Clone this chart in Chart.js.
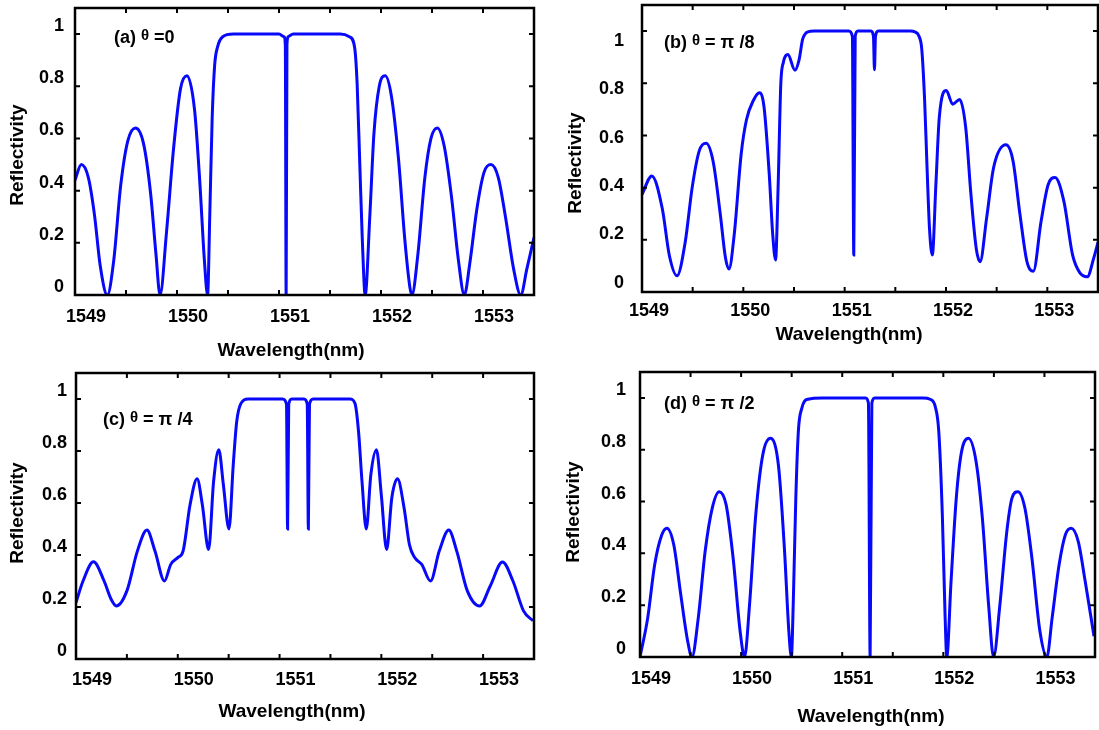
<!DOCTYPE html>
<html>
<head>
<meta charset="utf-8">
<title>Reflectivity spectra</title>
<script src="https://cdn.jsdelivr.net/npm/chart.js@4.4.0/dist/chart.umd.min.js"></script>
<style>
  body { margin: 0; background: #fff; }
  #wrap { position: relative; width: 1099px; height: 730px; }
  #wrap canvas { position: absolute; }
</style>
</head>
<body>
<div id="wrap">
  <canvas id="chartA" width="549" height="365" style="left:0;top:0"></canvas>
  <canvas id="chartB" width="550" height="365" style="left:549px;top:0"></canvas>
  <canvas id="chartC" width="549" height="365" style="left:0;top:365px"></canvas>
  <canvas id="chartD" width="550" height="365" style="left:549px;top:365px"></canvas>
</div>
<script>
// Axis ranges and ticks (shared by all four panels)
const X_MIN = 1549, X_MAX = 1553.5, X_STEP = 0.5;
const Y_MIN = 0, Y_MAX = 1.1, Y_STEP = 0.2;
const X_TITLE = 'Wavelength(nm)';
const Y_TITLE = 'Reflectivity';

// (a) theta = 0
const wavelengthA = [1549.000, 1549.062, 1549.131, 1549.190, 1549.248, 1549.317,
  1549.379, 1549.448, 1549.517, 1549.593, 1549.672, 1549.741, 1549.793, 1549.834,
  1549.897, 1549.966, 1550.034, 1550.097, 1550.172, 1550.224, 1550.269, 1550.300,
  1550.321, 1550.345, 1550.369, 1550.397, 1550.448, 1550.552, 1551.000, 1551.050,
  1551.062, 1551.070, 1551.078, 1551.090, 1551.140, 1551.600, 1551.690, 1551.741,
  1551.766, 1551.793, 1551.817, 1551.845, 1551.890, 1551.931, 1551.983, 1552.041,
  1552.103, 1552.172, 1552.234, 1552.283, 1552.303, 1552.360, 1552.430, 1552.490,
  1552.552, 1552.620, 1552.690, 1552.760, 1552.817, 1552.870, 1552.940, 1553.010,
  1553.079, 1553.150, 1553.220, 1553.300, 1553.370, 1553.430, 1553.500];
const reflectA = [0.44, 0.50, 0.45, 0.31, 0.11, 0.00,
  0.13, 0.42, 0.59, 0.64, 0.58, 0.39, 0.16, 0.00,
  0.24, 0.56, 0.79, 0.84, 0.71, 0.43, 0.13, 0.00,
  0.30, 0.68, 0.88, 0.95, 0.99, 1.00, 1.00, 0.99,
  0.96, 0.00, 0.96, 0.99, 1.00, 1.00, 0.99, 0.95,
  0.81, 0.49, 0.21, 0.00, 0.30, 0.62, 0.80, 0.84,
  0.76, 0.52, 0.21, 0.03, 0.00, 0.15, 0.45, 0.60,
  0.64, 0.57, 0.38, 0.13, 0.00, 0.12, 0.33, 0.47,
  0.50, 0.45, 0.30, 0.10, 0.00, 0.10, 0.22];

// (b) theta = pi/8
const wavelengthB = [1549.000, 1549.097, 1549.200, 1549.270, 1549.346, 1549.426,
  1549.495, 1549.564, 1549.633, 1549.702, 1549.772, 1549.824, 1549.858, 1549.910,
  1549.979, 1550.031, 1550.100, 1550.159, 1550.204, 1550.256, 1550.290, 1550.318,
  1550.343, 1550.370, 1550.395, 1550.440, 1550.509, 1550.550, 1550.585, 1550.637,
  1550.700, 1551.040, 1551.076, 1551.090, 1551.104, 1551.130, 1551.260, 1551.284,
  1551.294, 1551.304, 1551.330, 1551.650, 1551.692, 1551.734, 1551.761, 1551.789,
  1551.813, 1551.837, 1551.865, 1551.900, 1551.934, 1552.003, 1552.066, 1552.135,
  1552.194, 1552.246, 1552.298, 1552.336, 1552.401, 1552.470, 1552.592, 1552.661,
  1552.730, 1552.799, 1552.862, 1552.938, 1553.007, 1553.076, 1553.163, 1553.249,
  1553.318, 1553.394, 1553.457, 1553.500];
const reflectB = [0.374, 0.445, 0.32, 0.14, 0.062, 0.19,
  0.40, 0.54, 0.57, 0.50, 0.30, 0.13, 0.088, 0.22,
  0.53, 0.66, 0.735, 0.764, 0.71, 0.45, 0.22, 0.123,
  0.40, 0.80, 0.88, 0.91, 0.85, 0.89, 0.968, 0.997,
  1.00, 1.00, 0.98, 0.142, 0.98, 1.00, 1.00, 0.98,
  0.852, 0.98, 1.00, 1.00, 0.997, 0.98, 0.93, 0.735,
  0.477, 0.245, 0.142, 0.41, 0.67, 0.772, 0.72, 0.738,
  0.632, 0.374, 0.168, 0.116, 0.284, 0.477, 0.564, 0.503,
  0.297, 0.116, 0.08, 0.27, 0.41, 0.439, 0.348, 0.142,
  0.075, 0.058, 0.129, 0.19];

// (c) theta = pi/4
const wavelengthC = [1549.000, 1549.069, 1549.172, 1549.276, 1549.345, 1549.397,
  1549.500, 1549.603, 1549.697, 1549.776, 1549.869, 1549.931, 1550.000, 1550.052,
  1550.121, 1550.190, 1550.241, 1550.303, 1550.352, 1550.403, 1550.448, 1550.503,
  1550.545, 1550.579, 1550.621, 1550.690, 1551.030, 1551.068, 1551.079, 1551.090,
  1551.120, 1551.240, 1551.272, 1551.283, 1551.294, 1551.330, 1551.690, 1551.741,
  1551.776, 1551.810, 1551.852, 1551.897, 1551.952, 1552.000, 1552.052, 1552.103,
  1552.159, 1552.224, 1552.276, 1552.328, 1552.397, 1552.483, 1552.569, 1552.662,
  1552.741, 1552.845, 1552.966, 1553.069, 1553.190, 1553.293, 1553.397, 1553.490];
const reflectC = [0.217, 0.30, 0.374, 0.30, 0.23, 0.204,
  0.262, 0.415, 0.496, 0.415, 0.30, 0.364, 0.39, 0.415,
  0.594, 0.693, 0.594, 0.421, 0.683, 0.805, 0.67, 0.50,
  0.747, 0.913, 0.983, 1.00, 1.00, 0.98, 0.50, 0.98,
  1.00, 1.00, 0.98, 0.50, 0.98, 1.00, 1.00, 0.983,
  0.875, 0.683, 0.50, 0.709, 0.805, 0.63, 0.421, 0.62,
  0.693, 0.58, 0.44, 0.39, 0.364, 0.30, 0.415, 0.496,
  0.415, 0.262, 0.204, 0.28, 0.373, 0.30, 0.185, 0.147];

// (d) theta = pi/2
const wavelengthD = [1549.000, 1549.076, 1549.145, 1549.214, 1549.266, 1549.334,
  1549.403, 1549.472, 1549.514, 1549.576, 1549.645, 1549.714, 1549.783, 1549.852,
  1549.921, 1549.990, 1550.034, 1550.083, 1550.145, 1550.214, 1550.290, 1550.369,
  1550.428, 1550.472, 1550.497, 1550.517, 1550.541, 1550.566, 1550.600, 1550.662,
  1550.800, 1551.231, 1551.259, 1551.276, 1551.293, 1551.321, 1551.800, 1551.869,
  1551.921, 1551.955, 1551.990, 1552.017, 1552.034, 1552.076, 1552.128, 1552.179,
  1552.248, 1552.324, 1552.386, 1552.448, 1552.497, 1552.559, 1552.628, 1552.679,
  1552.738, 1552.807, 1552.876, 1552.955, 1553.024, 1553.076, 1553.145, 1553.207,
  1553.266, 1553.334, 1553.403, 1553.490];
const reflectD = [0.00, 0.15, 0.356, 0.47, 0.497, 0.433,
  0.241, 0.06, 0.00, 0.15, 0.41, 0.574, 0.638, 0.587,
  0.382, 0.10, 0.00, 0.20, 0.55, 0.78, 0.844, 0.74,
  0.42, 0.10, 0.00, 0.228, 0.613, 0.87, 0.96, 0.995,
  1.00, 1.00, 0.98, 0.00, 0.98, 1.00, 1.00, 0.995,
  0.965, 0.87, 0.55, 0.164, 0.00, 0.29, 0.613, 0.79,
  0.844, 0.754, 0.536, 0.20, 0.00, 0.20, 0.485, 0.613,
  0.638, 0.574, 0.382, 0.10, 0.00, 0.151, 0.356, 0.472,
  0.497, 0.446, 0.292, 0.08];

const FONT = '"Liberation Sans", Arial, Helvetica, sans-serif';
const LINE_COLOR = 'rgb(8, 8, 250)';
const TICK_LEN = 5;

// Page-space layout of each panel: canvas box, plot rectangle, label tweaks
const panels = [
  {
    id: 'chartA', box: [0, 0, 549, 365], area: [75, 8, 534, 295],
    xs: wavelengthA, ys: reflectA,
    xLabelShift: 11, xLabelPad: 11, yLabelShift: -8, yLabelPad: 11,
    tag: [['(a) ', 18, 0], ['θ', 15, 3], [' =0', 18, 0]], tagAt: [114, 43],
    xTitleAt: [291, 351], yTitleAt: [18, 155]
  },
  {
    id: 'chartB', box: [549, 0, 550, 365], area: [642, 5, 1098, 292],
    xs: wavelengthB, ys: reflectB,
    xLabelShift: 7, xLabelPad: 8, yLabelPad: 18,
    // tick labels on this panel sit on a slightly compressed scale
    yLabelRange: [-0.039, 1.15],
    tag: [['(b) ', 18, 0], ['θ', 15, 3], [' = π /8', 18, 0]], tagAt: [664, 48],
    xTitleAt: [849, 335], yTitleAt: [576, 163]
  },
  {
    id: 'chartC', box: [0, 365, 549, 365], area: [76, 373, 534, 659],
    xs: wavelengthC, ys: reflectC,
    xLabelShift: 16, xLabelPad: 10, yLabelShift: -8, yLabelPad: 9,
    tag: [['(c) ', 18, 0], ['θ', 15, 3], [' = π /4', 18, 0]], tagAt: [103, 425],
    xTitleAt: [292, 712], yTitleAt: [18, 513]
  },
  {
    id: 'chartD', box: [549, 365, 550, 365], area: [640, 372, 1095, 657],
    xs: wavelengthD, ys: reflectD,
    xLabelShift: 11, xLabelPad: 11, yLabelShift: -8, yLabelPad: 14,
    tag: [['(d) ', 18, 0], ['θ', 15, 3], [' = π /2', 18, 0]], tagAt: [664, 409],
    xTitleAt: [871, 717], yTitleAt: [574, 512]
  }
];

const tickFont = { family: FONT, size: 18, weight: 'bold' };

function zeroPadding(scale) {
  scale.paddingLeft = 0;
  scale.paddingRight = 0;
  scale.paddingTop = 0;
  scale.paddingBottom = 0;
}

function yLabel(v) {
  return String(Number(v.toFixed(1)));
}

// Frame, inward ticks, panel tag and axis titles
function makeDecor(p) {
  const [bx, by] = p.box;
  return {
    id: 'panelDecor',
    afterDraw(chart) {
      const { ctx, chartArea: a, scales } = chart;
      ctx.save();
      ctx.strokeStyle = '#000';
      ctx.lineWidth = 2;
      ctx.beginPath();
      scales.x.ticks.forEach(t => {
        const px = scales.x.getPixelForValue(t.value);
        ctx.moveTo(px, a.bottom);
        ctx.lineTo(px, a.bottom - TICK_LEN);
        ctx.moveTo(px, a.top);
        ctx.lineTo(px, a.top + TICK_LEN);
      });
      scales.y.ticks.forEach(t => {
        const py = scales.y.getPixelForValue(t.value);
        ctx.moveTo(a.left, py);
        ctx.lineTo(a.left + TICK_LEN, py);
        ctx.moveTo(a.right, py);
        ctx.lineTo(a.right - TICK_LEN, py);
      });
      ctx.stroke();

      ctx.lineWidth = 2.5;
      ctx.strokeRect(a.left, a.top, a.right - a.left, a.bottom - a.top);

      ctx.fillStyle = '#000';
      ctx.textAlign = 'left';
      ctx.textBaseline = 'alphabetic';
      let x = p.tagAt[0] - bx;
      const base = p.tagAt[1] - by;
      p.tag.forEach(([text, size, rise]) => {
        ctx.font = `bold ${size}px ${FONT}`;
        ctx.fillText(text, x, base - rise);
        x += ctx.measureText(text).width;
      });

      ctx.font = `bold 19px ${FONT}`;
      ctx.textAlign = 'center';
      ctx.textBaseline = 'middle';
      ctx.fillText(X_TITLE, p.xTitleAt[0] - bx, p.xTitleAt[1] - by);
      ctx.translate(p.yTitleAt[0] - bx, p.yTitleAt[1] - by);
      ctx.rotate(-Math.PI / 2);
      ctx.fillText(Y_TITLE, 0, 0);
      ctx.restore();
    }
  };
}

function buildPanel(p) {
  const [bx, by, bw, bh] = p.box;
  const left = p.area[0] - bx, top = p.area[1] - by;
  const right = p.area[2] - bx, bottom = p.area[3] - by;
  const separateLabels = Array.isArray(p.yLabelRange);

  const scales = {
    x: {
      type: 'linear', position: 'bottom', min: X_MIN, max: X_MAX,
      grid: { display: false, drawTicks: false },
      border: { display: false },
      ticks: {
        stepSize: X_STEP, autoSkip: false, maxRotation: 0,
        color: '#000', font: tickFont,
        padding: p.xLabelPad, labelOffset: p.xLabelShift,
        callback: v => (Number.isInteger(v) ? String(v) : '')
      },
      afterFit(scale) { scale.height = bh - bottom; zeroPadding(scale); }
    },
    y: {
      type: 'linear', position: 'left', min: Y_MIN, max: Y_MAX,
      display: !separateLabels,
      grid: { display: false, drawTicks: false },
      border: { display: false },
      ticks: {
        stepSize: Y_STEP, includeBounds: false,
        color: '#000', font: tickFont,
        padding: p.yLabelPad, labelOffset: p.yLabelShift || 0,
        callback: yLabel
      },
      // when labels live on their own axis this one takes no room
      afterFit(scale) { scale.width = separateLabels ? 0 : left; zeroPadding(scale); }
    }
  };

  if (separateLabels) {
    scales.yLabels = {
      type: 'linear', position: 'left', weight: 1,
      min: p.yLabelRange[0], max: p.yLabelRange[1],
      grid: { display: false, drawTicks: false },
      border: { display: false },
      ticks: {
        stepSize: Y_STEP, includeBounds: false,
        color: '#000', font: tickFont, padding: p.yLabelPad,
        callback: yLabel
      },
      afterFit(scale) { scale.width = left; zeroPadding(scale); }
    };
  }

  new Chart(document.getElementById(p.id), {
    type: 'line',
    data: {
      datasets: [{
        data: p.xs.map((x, i) => ({ x, y: p.ys[i] })),
        borderColor: LINE_COLOR,
        borderWidth: 3,
        pointRadius: 0,
        fill: false,
        cubicInterpolationMode: 'monotone',
        xAxisID: 'x',
        yAxisID: 'y'
      }]
    },
    options: {
      responsive: false,
      devicePixelRatio: 1,
      animation: false,
      layout: { padding: { left: 0, top: top, right: bw - right, bottom: 0 } },
      scales,
      plugins: {
        legend: { display: false },
        tooltip: { enabled: false }
      }
    },
    plugins: [makeDecor(p)]
  });
}

panels.forEach(buildPanel);
</script>
</body>
</html>
